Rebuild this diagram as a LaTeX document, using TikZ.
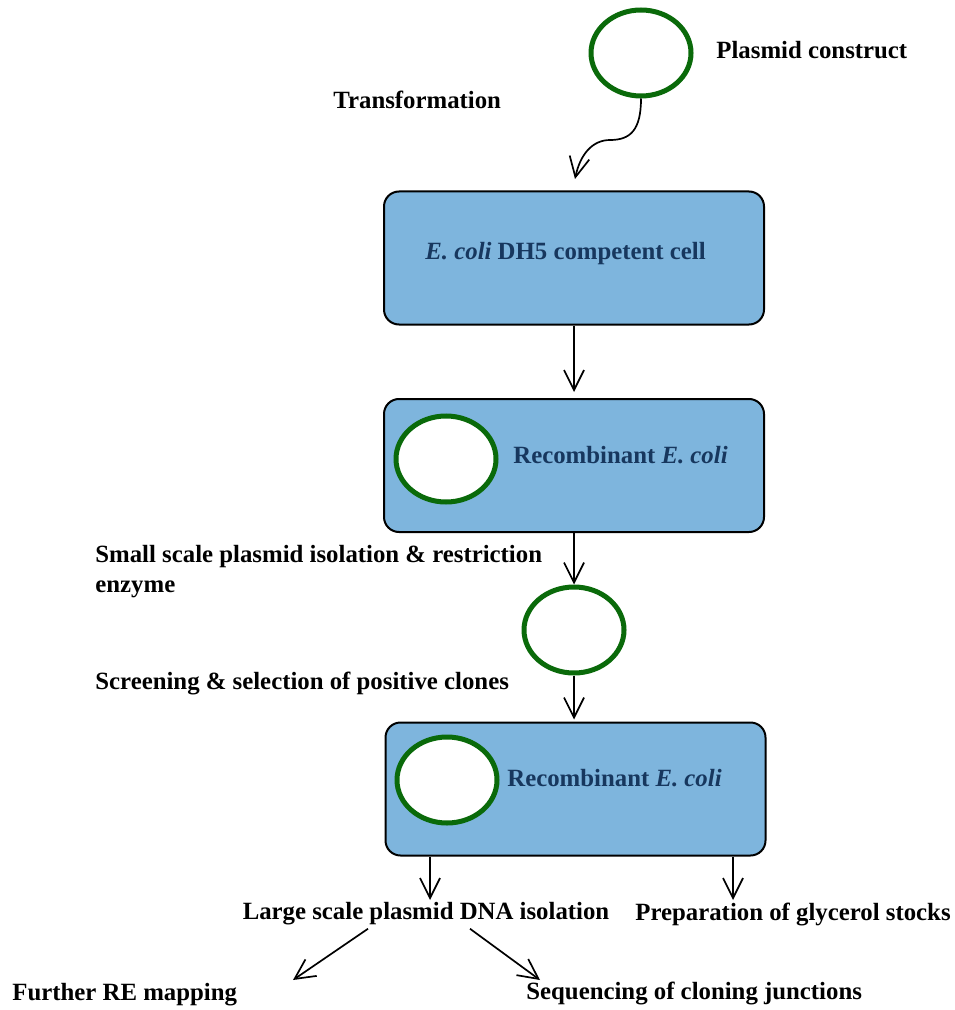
\documentclass[tikz,border=0pt]{standalone}
\usepackage{fontspec}
\setmainfont{Liberation Serif}
\usepackage{xcolor}
\usepackage{tikz}
\usetikzlibrary{positioning,arrows.meta,shapes.geometric,calc}
\definecolor{boxblue}{HTML}{7EB5DD}
\definecolor{navy}{HTML}{17375E}
\definecolor{plgreen}{HTML}{0A6A0A}

\begin{document}
\begin{tikzpicture}[x=0.5pt,y=-0.5pt,
  font=\fontsize{12.4}{15}\selectfont\bfseries, >={Straight Barb[length=10pt,width=10pt]},
  box/.style={draw,line width=1pt,rounded corners=7.5pt,fill=boxblue,minimum width=190pt,minimum height=66.5pt,inner sep=0pt},
  pls/.style={draw=plgreen,line width=2.5pt,fill=white,ellipse,minimum width=50pt,minimum height=43pt,inner sep=0pt},
  lbl/.style={anchor=west,inner sep=0pt},
  intxt/.style={lbl,text=navy},
  arr/.style={->,line width=0.85pt}
]
\useasboundingbox (0,0) rectangle (954,1010);

% plasmid and transformation
\node[pls] (pc) at (641,53) {};
\node[lbl] (pctxt) at (716,50) {Plasmid construct};
\node[lbl] (trtxt) at (333,100) {Transformation};
\coordinate (tw) at (610,140);
\coordinate (tend) at (575,179);
\draw[arr] (pc.south) .. controls +(0,32) and +(20,0) .. (tw) .. controls +(-18,0) and +(5,-24) .. (tend);

% competent cells
\node[box] (b1) at (574,258) {};
\node[intxt] (b1txt) at (425,254) {\textit{E. coli} DH5 competent cell};

% recombinant
\node[box] (b2) at (574,465.5) {};
\node[pls] (pl1) at (446,459) {};
\node[intxt] (b2txt) at (513,455) {Recombinant \textit{E. coli}};
\draw[arr] (b1.south) -- ([yshift=3pt]b2.north);

% screening
\node[pls] (pl2) at (574,630) {};
\node[lbl,align=left] (smtxt) at (95,572) {Small scale plasmid isolation \& restriction\\enzyme};
\node[lbl] (scrtxt) at (95,683) {Screening \& selection of positive clones};
\draw[arr] (b2.south) -- (pl2.north);

\node[box] (b3) at (575.5,789) {};
\node[pls] (pl3) at (447,780) {};
\node[intxt] (b3txt) at (507,778) {Recombinant \textit{E. coli}};
\draw[arr] (pl2.south) -- ([yshift=1pt]b3.north -| pl2.south);

% downstream work
\node[inner sep=0pt] (lg) at (426,914) {Large scale plasmid DNA isolation};
\node[lbl] (gly) at (635,914) {Preparation of glycerol stocks};
\node[lbl] (fre) at (12,995) {Further RE mapping};
\node[lbl] (seq) at (526,993) {Sequencing of cloning junctions};
\coordinate (gy) at (733,900);
\coordinate (lgtop) at (430,900);
\coordinate (reend) at (293,980);
\coordinate (seqend) at (540,980);
\draw[arr] (b3.south -| lgtop) -- (lgtop);
\draw[arr] (b3.south -| gy) -- (gy);
\draw[arr] ([xshift=-29pt,yshift=-1.5pt]lg.south) -- (reend);
\draw[arr] ([xshift=22pt,yshift=-1.5pt]lg.south) -- (seqend);
\end{tikzpicture}
\end{document}
